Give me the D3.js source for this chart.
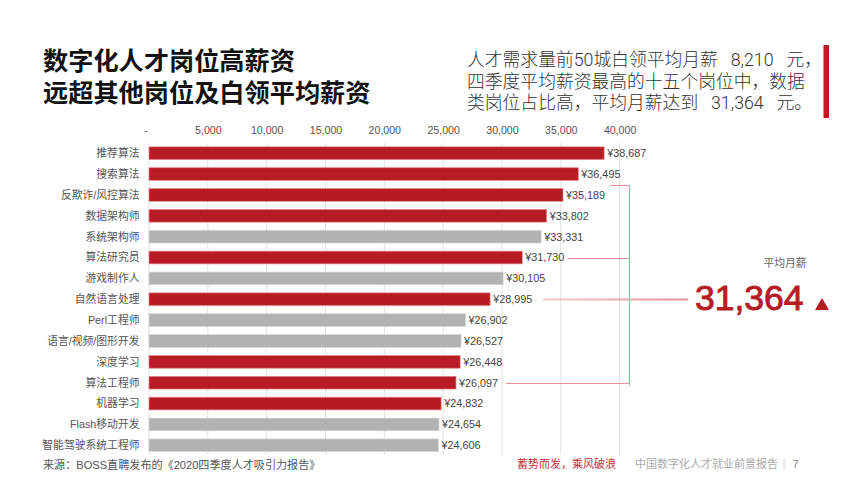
<!DOCTYPE html>
<html lang="zh-CN">
<head>
<meta charset="utf-8">
<script src="https://cdn.jsdelivr.net/npm/d3@7"></script>
<style>
  html, body { margin: 0; padding: 0; background: #fff; }
  svg { display: block; }
  text { font-family: "Liberation Sans", "Noto Sans CJK SC", sans-serif; }
</style>
</head>
<body>
<svg id="chart" width="865" height="486"></svg>
<script>
// chart values
const jobs = ['推荐算法', '搜索算法', '反欺诈/风控算法', '数据架构师', '系统架构师', '算法研究员', '游戏制作人',
  '自然语言处理', 'Perl工程师', '语言/视频/图形开发', '深度学习', '算法工程师', '机器学习', 'Flash移动开发', '智能驾驶系统工程师'];
const salaries = [38687, 36495, 35189, 33802, 33331, 31730, 30105, 28995, 26902, 26527, 26448, 26097, 24832, 24654, 24606];
// 1 = data job (red), 0 = other (grey)
const isData = [1, 1, 1, 1, 0, 1, 0, 1, 0, 0, 1, 1, 1, 0, 0];
const ticks = [0, 5000, 10000, 15000, 20000, 25000, 30000, 35000, 40000];
const titleLines = ['数字化人才岗位高薪资', '远超其他岗位及白领平均薪资'];
const introLines = ['人才需求量前50城白领平均月薪 8,210 元，', '四季度平均薪资最高的十五个岗位中，数据', '类岗位占比高，平均月薪达到 31,364 元。'];
// rows joined by the bracket
const bracketJobs = ['反欺诈/风控算法', '算法研究员', '自然语言处理', '算法工程师'];

const RED = '#b71c25';
const GREY = '#b2b2b2';

const svg = d3.select('#chart');

let x = d3.scaleLinear().domain([0, 40000]).range([149, 619.6]);
let y = d3.scaleBand().domain(jobs).range([143.3, 455.2]).paddingInner(0.39).paddingOuter(0.17);

// grid lines sit behind the bars
svg.append('g').selectAll('line').data(ticks).join('line')
  .attr('x1', d => x(d)).attr('x2', d => x(d))
  .attr('y1', 143).attr('y2', 455)
  .attr('stroke', '#e2e2e2').attr('stroke-width', 1);

// top axis, only the labels stay
let axis = d3.axisTop(x).tickValues(ticks).tickSize(0).tickPadding(0)
  .tickFormat(d => d === 0 ? '-' : d3.format(',')(d));
let axisG = svg.append('g').attr('transform', 'translate(0,134)').call(axis);
axisG.select('.domain').remove();
axisG.selectAll('text').attr('font-size', 10.6).attr('fill', '#555')
  .style('font-family', '"Liberation Sans", "Noto Sans CJK SC", sans-serif');
axisG.selectAll('.tick').filter(d => d === 0).select('text').attr('dx', -3.5);

// bars
svg.append('g').selectAll('rect').data(jobs).join('rect')
  .attr('x', x(0))
  .attr('y', d => y(d))
  .attr('width', (d, i) => x(salaries[i]) - x(0))
  .attr('height', y.bandwidth())
  .attr('fill', (d, i) => isData[i] ? RED : GREY)
  .attr('stroke', (d, i) => isData[i] ? '#e58a90' : '#d8d8d8')
  .attr('stroke-width', 0.7);

// category labels
svg.append('g').selectAll('text').data(jobs).join('text')
  .attr('x', 139.5)
  .attr('y', d => y(d) + y.bandwidth() / 2)
  .attr('dy', '0.36em')
  .attr('text-anchor', 'end')
  .attr('font-size', 10.8)
  .attr('fill', '#555')
  .text(d => d);

// value labels
svg.append('g').selectAll('text').data(salaries).join('text')
  .attr('x', d => x(d) + 3)
  .attr('y', (d, i) => y(jobs[i]) + y.bandwidth() / 2)
  .attr('dy', '0.36em')
  .attr('font-size', 10.8)
  .attr('fill', '#444')
  .text(d => '¥' + d3.format(',')(d));

// bracket from the data rows to the average
const defs = svg.append('defs');
const fade = defs.append('linearGradient').attr('id', 'fade');
fade.append('stop').attr('offset', '0').attr('stop-color', '#f6c9cc');
fade.append('stop').attr('offset', '1').attr('stop-color', '#e78f94');

const bracketX = 629.5;
const rowY = name => Math.round(y(name) + y.bandwidth() / 2) + 0.5;
const bracketTop = Math.round(y(bracketJobs[0]) - 3.5) + 0.5;
const bracketEnd = rowY(bracketJobs[3]) + 2;
const note = svg.append('g').attr('fill', 'none').attr('stroke', '#e78f94').attr('stroke-width', 1);
note.append('path').attr('d', `M${x(salaries[2]) + 47},${bracketTop}H${bracketX}V${bracketEnd}`);
note.append('line').attr('x1', x(salaries[5]) + 45.5).attr('x2', bracketX)
  .attr('y1', rowY(bracketJobs[1])).attr('y2', rowY(bracketJobs[1]));
note.append('line').attr('x1', x(salaries[11]) + 50).attr('x2', bracketX)
  .attr('y1', rowY(bracketJobs[3])).attr('y2', rowY(bracketJobs[3]));
note.append('rect').attr('x', x(salaries[7]) + 53).attr('width', 145)
  .attr('y', rowY(bracketJobs[2]) - 1).attr('height', 2)
  .attr('fill', 'url(#fade)').attr('stroke', 'none');

// title
svg.append('g').selectAll('text').data(titleLines).join('text')
  .attr('x', 43)
  .attr('y', (d, i) => 69.5 + i * 32.5)
  .attr('font-size', 25.2)
  .attr('font-weight', 700)
  .attr('fill', '#111')
  .text(d => d);

// intro text
svg.append('g').selectAll('text').data(introLines).join('text')
  .attr('x', 467)
  .attr('y', (d, i) => 66 + i * 21.5)
  .attr('font-size', 17.8)
  .attr('font-weight', 300)
  .attr('fill', '#333')
  .attr('word-spacing', 8.5)
  .style('font-family', 'Roboto, "Noto Sans CJK SC", sans-serif')
  .text(d => d);

svg.append('rect').attr('x', 823.5).attr('y', 45).attr('width', 5.5).attr('height', 73).attr('fill', RED);

// average callout
svg.append('text').attr('x', 785).attr('y', 267).attr('text-anchor', 'middle')
  .attr('font-size', 10.8).attr('fill', '#666').text('平均月薪');
svg.append('text').attr('x', 695).attr('y', 310)
  .attr('font-size', 35.5)
  .attr('fill', RED).attr('stroke', RED).attr('stroke-width', 0.9)
  .text('31,364');
svg.append('path').attr('transform', 'translate(822,306)')
  .attr('d', d3.symbol(d3.symbolTriangle, 85)).attr('fill', RED);

// footer
svg.append('text').attr('x', 43).attr('y', 468.5).attr('font-size', 11.1).attr('fill', '#555')
  .text('来源：BOSS直聘发布的《2020四季度人才吸引力报告》');
svg.append('text').attr('x', 517).attr('y', 468).attr('font-size', 11).attr('fill', '#c0323a')
  .text('蓄势而发，乘风破浪');
svg.append('text').attr('x', 635).attr('y', 468).attr('font-size', 11).attr('fill', '#aaa')
  .text('中国数字化人才就业前景报告');
svg.append('line').attr('x1', 784).attr('x2', 784).attr('y1', 459).attr('y2', 469).attr('stroke', '#ccc');
svg.append('text').attr('x', 792.5).attr('y', 468).attr('font-size', 11).attr('fill', '#888').text('7');
</script>
</body>
</html>
